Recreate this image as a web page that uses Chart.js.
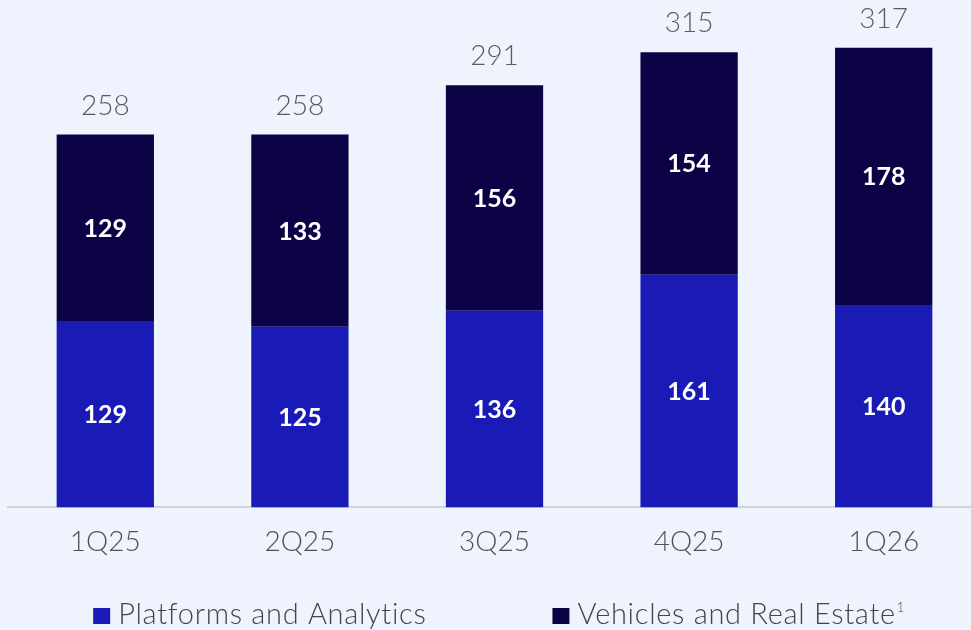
<!DOCTYPE html>
<html>
<head>
<meta charset="utf-8">
<script src="https://cdn.jsdelivr.net/npm/chart.js@4/dist/chart.umd.min.js"></script>
<style>
  html, body { margin: 0; padding: 0; background: #eff3fd; overflow: hidden; }
  #wrap { position: relative; width: 981px; height: 630px; }
</style>
</head>
<body>
<div id="wrap"><canvas id="chartCanvas"></canvas></div>
<script>
// chart values
var quarters = ['1Q25', '2Q25', '3Q25', '4Q25', '1Q26'];
var platforms = [129, 125, 136, 161, 140];
var vehicles = [129, 133, 156, 154, 178];
var totals = [258, 258, 291, 315, 317];
var seriesNames = ['Platforms and Analytics', 'Vehicles and Real Estate'];
var footnotes = ['', '1'];

// numbers inside the bars and the totals above them
var barLabels = {
    id: 'barLabels',
    afterDatasetsDraw: function(chart) {
        var ctx = chart.ctx;
        ctx.save();
        ctx.textAlign = 'center';
        ctx.textBaseline = 'middle';
        ctx.fillStyle = '#ffffff';
        ctx.font = '700 25px Lato';
        chart.data.datasets.forEach(function(ds, d) {
            var meta = chart.getDatasetMeta(d);
            meta.data.forEach(function(bar, i) {
                ctx.fillText(ds.data[i], bar.x, (bar.y + bar.base) / 2 + 1);
            });
        });
        var top = chart.getDatasetMeta(chart.data.datasets.length - 1);
        ctx.fillStyle = '#5b5b5b';
        ctx.font = '300 28px Lato';
        ctx.textBaseline = 'alphabetic';
        top.data.forEach(function(bar, i) {
            ctx.fillText(totals[i], bar.x, bar.y - 20);
        });
        ctx.restore();
    }
};

// legend under the axis, wide gap between the two entries
var bottomLegend = {
    id: 'bottomLegend',
    afterDraw: function(chart) {
        var ctx = chart.ctx;
        var ds = chart.data.datasets;
        var baseY = 624, box = 17, gap = 8, itemGap = 126;
        ctx.save();
        ctx.font = '300 29px Lato';
        ctx.letterSpacing = '0.7px';
        var widths = ds.map(function(d, i) {
            var w = ctx.measureText(d.label).width;
            if (footnotes[i]) w += 8;
            return box + gap + w;
        });
        var total = widths[0] + widths[1] + itemGap;
        var x = (chart.chartArea.left + chart.chartArea.right) / 2 - total / 2 + 4;
        ds.forEach(function(d, i) {
            ctx.fillStyle = d.backgroundColor;
            ctx.fillRect(x, baseY - 16, box, 16);
            ctx.fillStyle = '#454545';
            ctx.textAlign = 'left';
            ctx.textBaseline = 'alphabetic';
            ctx.font = '300 29px Lato';
            ctx.fillText(d.label, x + box + gap, baseY);
            if (footnotes[i]) {
                var tw = ctx.measureText(d.label).width;
                ctx.font = '300 13px Lato';
                ctx.fillText(footnotes[i], x + box + gap + tw + 1, baseY - 12);
            }
            x += widths[i] + itemGap;
        });
        ctx.restore();
    }
};

var chartdata = {
    labels: quarters,
    datasets: [
        {
            label: seriesNames[0],
            backgroundColor: '#1a1ab6',
            data: platforms
        },
        {
            label: seriesNames[1],
            backgroundColor: '#0c0346',
            data: vehicles
        }
    ]
};

var barGraph = new Chart(document.getElementById('chartCanvas'), {
    type: 'bar',
    data: chartdata,
    plugins: [barLabels, bottomLegend],
    options: {
        responsive: true,
        maintainAspectRatio: false,
        animation: false,
        layout: { padding: { left: 8, right: 0, top: 16, bottom: 53 } },
        datasets: { bar: { barPercentage: 1, categoryPercentage: 0.5 } },
        plugins: {
            tooltip: { enabled: false },
            legend: { display: false }
        },
        scales: {
            x: {
                stacked: true,
                grid: { display: false, drawTicks: false },
                border: { display: true, color: '#d3d3da', width: 2 },
                ticks: {
                    color: '#505050',
                    padding: 18,
                    font: { family: 'Lato', size: 28, weight: '300' }
                }
            },
            y: {
                stacked: true,
                display: false,
                min: 0,
                max: 340
            }
        }
    }
});
</script>
</body>
</html>
